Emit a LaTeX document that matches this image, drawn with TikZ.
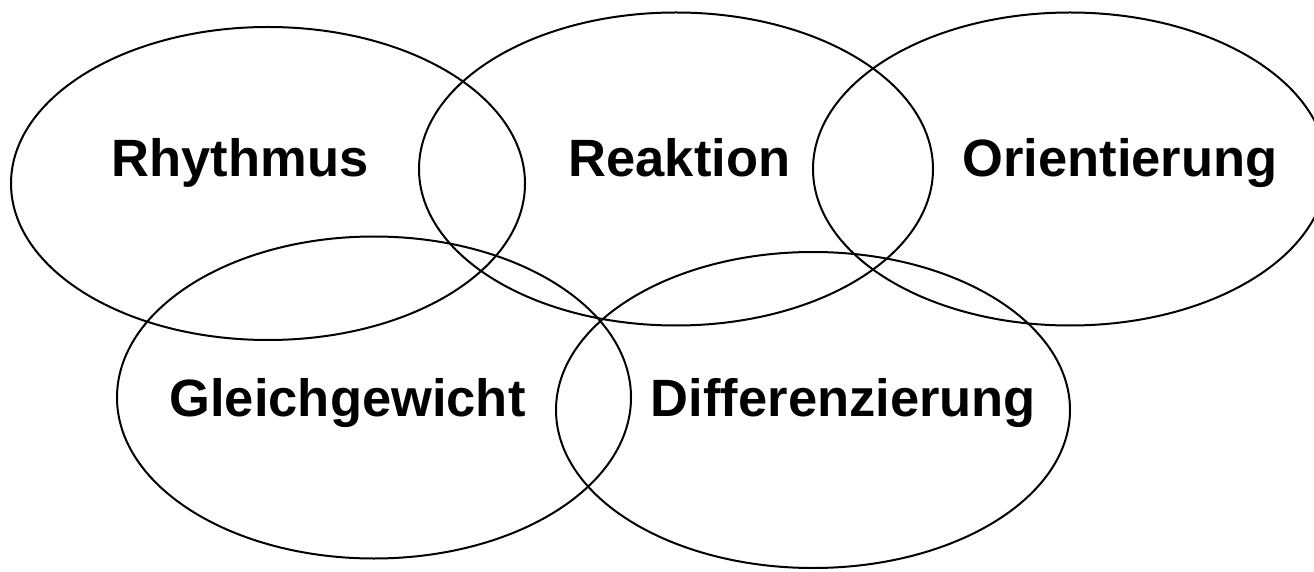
\documentclass[tikz,border=0pt]{standalone}
\usepackage{fontspec}
\setmainfont{Liberation Sans}

\begin{document}
\begin{tikzpicture}[x = 1pt, y = 1pt, line width = 2pt]

	% Definitions
	
	\def\W{1314}	% Picture width
	\def\H{571}		% Picture height
	\def\A{257}		% Horizontal half axis of every ellipse
	
	\useasboundingbox (0, 0) rectangle (\W, \H);
	\clip (0, 0) rectangle (\W, \H);
	
	% Ellipses
	
	\foreach \x/\y/\b in {268/387.5/156.5, 676/402/156.5, 1070/402/156.5, 374/173.5/161, 813/161/158}
		\draw (\x, \y) ellipse [x radius = \A, y radius = \b];
	
	% Labels
	
	\foreach \name/\x/\y/\word in {rhythmus/240/394/Rhythmus, reaktion/679.5/394/Reaktion, orientierung/1120/394/Orientierung, gleichgewicht/347.5/155/Gleichgewicht, differenzierung/843.5/155/Differenzierung}
		\node [anchor = base, inner sep = 0, font = \bfseries\fontsize{52.5}{62}\selectfont] (\name) at (\x, \y) {\word};

\end{tikzpicture}
\end{document}
